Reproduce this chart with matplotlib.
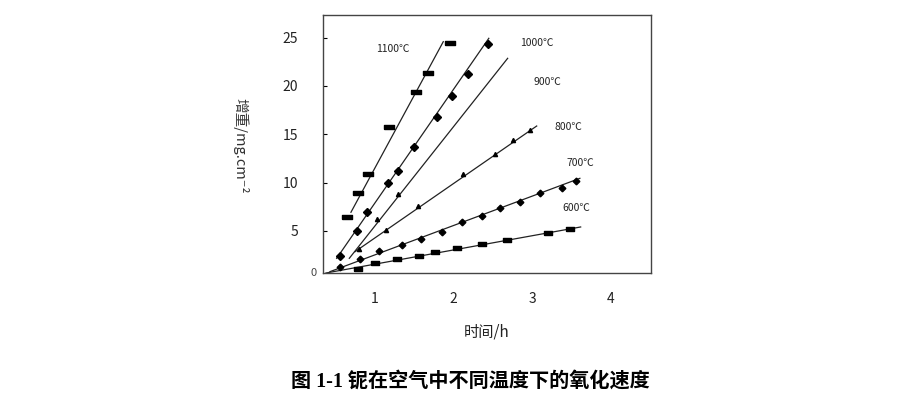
import matplotlib.pyplot as plt

plt.rcParams['font.family'] = ['Noto Sans CJK SC', 'DejaVu Sans']

# measured points (time in h, weight gain in mg/cm2)
t_1100 = [0.65, 0.79, 0.915, 1.18, 1.52, 1.67, 1.95]
w_1100 = [6.47, 8.89, 10.89, 15.72, 19.40, 21.30, 24.41]

t_1000 = [0.554, 0.767, 0.902, 1.162, 1.289, 1.50, 1.786, 1.985, 2.18, 2.443]
w_1000 = [2.41, 5.03, 6.93, 9.93, 11.23, 13.71, 16.81, 18.96, 21.2, 24.33]

t_900 = [1.029, 1.297]
w_900 = [6.2, 8.82]

t_800 = [0.80, 1.136, 1.551, 2.117, 2.529, 2.763, 2.975]
w_800 = [3.10, 5.10, 7.58, 10.89, 12.96, 14.41, 15.44]

t_700 = [0.554, 0.803, 1.049, 1.347, 1.586, 1.85, 2.11, 2.36, 2.59, 2.85, 3.10, 3.378, 3.56]
w_700 = [1.30, 2.07, 2.96, 3.55, 4.14, 4.92, 5.96, 6.58, 7.34, 8.02, 8.89, 9.47, 10.17]

t_600 = [0.79, 1.0, 1.28, 1.56, 1.77, 2.04, 2.36, 2.68, 3.2, 3.48]
w_600 = [1.03, 1.65, 2.07, 2.44, 2.85, 3.21, 3.65, 4.06, 4.76, 5.20]

# fitted lines, start and end
fit_t = {'1100': [0.694, 1.87], '1000': [0.512, 2.45], '900': [0.673, 2.69],
         '800': [0.745, 3.06], '700': [0.427, 3.61], '600': [0.376, 3.62]}
fit_w = {'1100': [6.93, 24.57], '1000': [2.17, 24.92], '900': [2.17, 22.85],
         '800': [2.85, 15.85], '700': [0.79, 10.44], '600': [0.65, 5.41]}

labels = ['1100℃', '1000℃', '900℃', '800℃', '700℃', '600℃']
label_t = [1.233, 3.06, 3.19, 3.46, 3.61, 3.57]
label_w = [23.78, 24.4, 20.43, 15.72, 12.06, 7.34]

rect = [(-1, -0.4), (1, -0.4), (1, 0.4), (-1, 0.4), (-1, -0.4)]
rect2 = [(-1, -0.5), (1, -0.5), (1, 0.5), (-1, 0.5), (-1, -0.5)]

fig = plt.figure(figsize=(8.99, 3.99), dpi=100)
ax = fig.add_axes([323 / 899, 1 - 273 / 399, 328 / 899, 258 / 399])

for key in fit_t:
    ax.plot(fit_t[key], fit_w[key], color='#222222', linewidth=0.9)

ax.plot(t_1100, w_1100, linestyle='none', marker=rect, markersize=6.5, color='black')
ax.plot(t_1000, w_1000, linestyle='none', marker='D', markersize=3.8, color='black')
ax.plot(t_900, w_900, linestyle='none', marker='^', markersize=3, color='black')
ax.plot(t_800, w_800, linestyle='none', marker='^', markersize=3, color='black')
ax.plot(t_700, w_700, linestyle='none', marker='D', markersize=3.4, color='black')
ax.plot(t_600, w_600, linestyle='none', marker=rect2, markersize=5.5, color='black')

for txt, x, y in zip(labels, label_t, label_w):
    ax.text(x, y, txt, fontsize=7.5, ha='center', va='center', color='#222222')

ax.set_xlim(0.338, 4.516)
ax.set_ylim(0.65, 27.33)
ax.set_xticks([1, 2, 3, 4])
ax.set_yticks([5, 10, 15, 20, 25])
ax.tick_params(axis='x', length=0, pad=14, labelsize=10, labelcolor='#222222')
ax.tick_params(axis='y', direction='in', length=3, pad=18, labelsize=10, labelcolor='#222222')
ax.text(-0.03, 0, '0', transform=ax.transAxes, fontsize=8, ha='center', va='center', color='#444444')

for s in ax.spines.values():
    s.set_color('#444444')
    s.set_linewidth(1.0)

ax.set_xlabel('时间/h', fontsize=11, color='#222222', labelpad=12)
fig.text(240 / 899, 1 - 146 / 399, '增重/mg.cm⁻²', rotation=270, fontsize=10.5,
         ha='center', va='center', color='#333333')

fig.text(470 / 899, 1 - 381.7 / 399, '图 1-1 铌在空气中不同温度下的氧化速度', fontsize=14.5,
         fontweight='bold', ha='center', va='center',
         family=['Liberation Serif', 'Noto Sans CJK SC'])

plt.savefig('out.png')
